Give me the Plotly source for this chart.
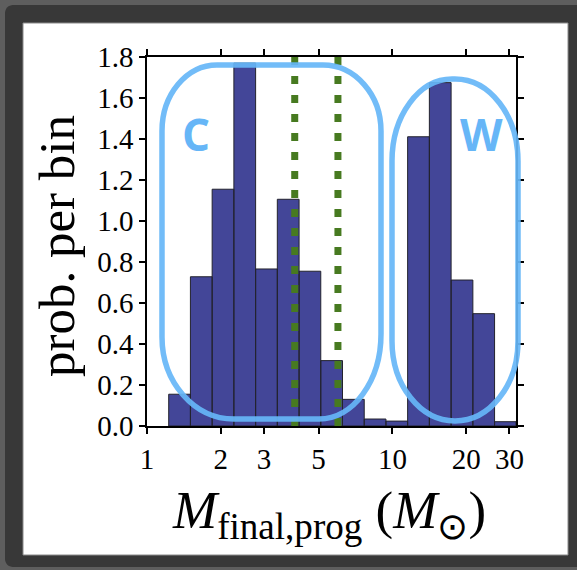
import numpy as np
import plotly.graph_objects as go

# ---------------- data ----------------
bin_edges = [1.00, 1.226, 1.503, 1.843, 2.260, 2.771, 3.397, 4.166, 5.107,
             6.262, 7.678, 9.414, 11.54, 14.15, 17.35, 21.28, 26.09, 31.9]
prob_per_bin = [0.0, 0.155, 0.728, 1.155, 1.77, 0.766, 1.106, 0.755, 0.319,
                0.13, 0.034, 0.024, 1.411, 1.675, 0.712, 0.548, 0.021]
vline_x = [4.0, 6.0]
x_tickvals = [1, 2, 3, 5, 10, 20, 30]
x_ticktext = ["1", "2", "3", "5", "10", "20", "30"]
group_labels = ["C", "W"]

# ---------------- layout geometry (pixels) ----------------
W, H = 577, 570
ML, MR, MT, MB = 147, 61, 57, 144
PW = W - ML - MR
PH = H - MT - MB


def px(x):
    return (x - ML) / PW


def py(y):
    return (H - MB - y) / PH


def rrect(x0, y0, x1, y1, tl, tr, br, bl):
    k = 0.5523

    def P(x, y):
        return f"{px(x):.5f},{py(y):.5f}"

    s = f"M{P(x0 + tl[0], y0)} L{P(x1 - tr[0], y0)} "
    s += f"C{P(x1 - tr[0] + k * tr[0], y0)} {P(x1, y0 + tr[1] - k * tr[1])} {P(x1, y0 + tr[1])} "
    s += f"L{P(x1, y1 - br[1])} "
    s += f"C{P(x1, y1 - br[1] + k * br[1])} {P(x1 - br[0] + k * br[0], y1)} {P(x1 - br[0], y1)} "
    s += f"L{P(x0 + bl[0], y1)} "
    s += f"C{P(x0 + bl[0] - k * bl[0], y1)} {P(x0, y1 - bl[1] + k * bl[1])} {P(x0, y1 - bl[1])} "
    s += f"L{P(x0, y0 + tl[1])} "
    s += f"C{P(x0, y0 + tl[1] - k * tl[1])} {P(x0 + tl[0] - k * tl[0], y0)} {P(x0 + tl[0], y0)} Z"
    return s


fig = go.Figure()

# histogram bars as closed polygons on the log axis
bx, by = [], []
for i, h in enumerate(prob_per_bin):
    if h <= 0:
        continue
    a, b = bin_edges[i], bin_edges[i + 1]
    bx += [a, a, b, b, a, None]
    by += [0, h, h, 0, 0, None]
fig.add_trace(go.Scatter(x=bx, y=by, mode="lines", fill="toself",
                         fillcolor="rgb(67,70,152)",
                         line=dict(color="rgb(35,35,45)", width=1),
                         hoverinfo="skip", showlegend=False))

# green dotted vertical lines
for xv in vline_x:
    fig.add_trace(go.Scatter(x=[xv, xv], y=[1.8, 0], mode="lines",
                             line=dict(color="#477a20", width=7, dash="8px,11px"),
                             hoverinfo="skip", showlegend=False))

shapes = []
# frame background
shapes.append(dict(type="path", xref="paper", yref="paper", layer="below",
                   path=rrect(5, 5, 600, 567, (8, 8), (0, 0), (0, 0), (8, 8)),
                   fillcolor="#383838", line=dict(width=0)))
shapes.append(dict(type="rect", xref="paper", yref="paper", layer="below",
                   x0=px(23), x1=px(568), y0=py(555), y1=py(23),
                   fillcolor="white", line=dict(color="#8a8a8a", width=1)))

blue = "rgb(102,182,247)"
c_path = rrect(162, 65, 381, 419, (55, 66), (58, 66), (62, 85), (72, 82))
w_path = rrect(392, 79, 518, 421, (60, 82), (63, 82), (63, 80), (63, 80))
for pth in (c_path, w_path):
    shapes.append(dict(type="path", xref="paper", yref="paper", layer="above",
                       path=pth, line=dict(color="rgba(102,182,247,0.92)", width=5.5)))

annotations = [
    dict(x=px(196), y=py(134), xref="paper", yref="paper", text="<b>" + group_labels[0] + "</b>",
         showarrow=False, font=dict(family="Open Sans", size=44, color=blue),
         xanchor="center", yanchor="middle"),
    dict(x=px(481), y=py(134), xref="paper", yref="paper", text="<b>" + group_labels[1] + "</b>",
         showarrow=False, font=dict(family="Open Sans", size=44, color=blue),
         xanchor="center", yanchor="middle"),
    dict(x=px(57), y=py(246), xref="paper", yref="paper", text="prob. per bin",
         textangle=-90, showarrow=False,
         font=dict(family="Liberation Serif", size=51, color="black"),
         xanchor="center", yanchor="middle"),
    dict(x=px(329), y=py(514), xref="paper", yref="paper",
         text="<i>M</i><sub>final,prog</sub> (<i>M</i><sub>⊙</sub>)",
         showarrow=False,
         font=dict(family="Liberation Serif", size=53, color="black"),
         xanchor="center", yanchor="middle"),
]

axis_common = dict(showline=True, linecolor="black", linewidth=1.5, mirror="ticks",
                   ticks="outside", ticklen=6, tickwidth=1.5, tickcolor="black",
                   showgrid=False, zeroline=False,
                   tickfont=dict(family="Liberation Serif", size=29, color="black"))

fig.update_layout(
    width=W, height=H,
    margin=dict(l=ML, r=MR, t=MT, b=MB, pad=0),
    paper_bgcolor="#5e5e5e",
    plot_bgcolor="rgba(0,0,0,0)",
    shapes=shapes,
    annotations=annotations,
    xaxis=dict(type="log", range=[0, np.log10(bin_edges[-1])],
               tickmode="array", tickvals=x_tickvals, ticktext=x_ticktext,
               **axis_common),
    yaxis=dict(range=[0, 1.8], tickmode="linear", tick0=0, dtick=0.2,
               tickformat=".1f", **axis_common),
    showlegend=False,
)

fig.write_html("out.html")
